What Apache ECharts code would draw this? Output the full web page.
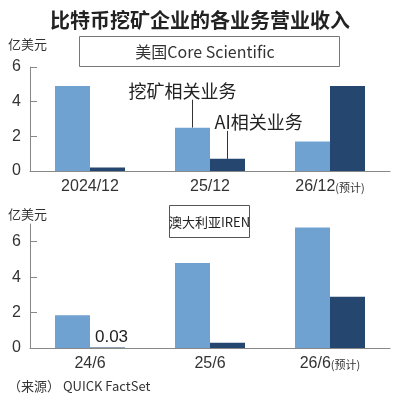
<!DOCTYPE html>
<html>
<head>
<meta charset="utf-8">
<script src="https://cdn.jsdelivr.net/npm/echarts@6/dist/echarts.min.js"></script>
<style>
html, body { margin: 0; padding: 0; background: #fff; }
#main { width: 400px; height: 399px; }
</style>
</head>
<body>
<div id="main"></div>
<script>
// 美国Core Scientific
var topCats = ['2024/12', '25/12', '26/12(预计)'];
var topMining = [4.9, 2.5, 1.7];
var topAI = [0.2, 0.7, 4.9];
// 澳大利亚IREN
var botCats = ['24/6', '25/6', '26/6(预计)'];
var botMining = [1.85, 4.8, 6.8];
var botAI = [0.03, 0.3, 2.9];
var yTicks = [0, 2, 4, 6];

var LIGHT = '#6fa1d1';
var DARK = '#24466f';
var AXIS = '#888';
var NUM = '"Liberation Sans", Arial, sans-serif';
var CJK = '"Noto Sans CJK SC", sans-serif';
var barW = 35;

function catLabel(v) {
	return v.replace('(预计)', '{s|(预计)}');
}

var xAxisBase = function(idx, cats) {
	return {
		type: 'category',
		gridIndex: idx,
		data: cats,
		axisLine: { lineStyle: { color: AXIS, width: 1 } },
		axisTick: { show: false },
		axisLabel: {
			interval: 0,
			color: '#333',
			fontSize: 16,
			fontFamily: NUM,
			margin: 8,
			formatter: catLabel,
			rich: {
				s: { fontSize: 11, fontFamily: CJK, color: '#333', padding: [2, 0, 0, 0] }
			}
		}
	};
};
var yAxisBase = function(idx, max) {
	return {
		type: 'value',
		gridIndex: idx,
		min: 0,
		max: max,
		interval: 2,
		splitLine: { show: false },
		axisLine: { show: true, lineStyle: { color: AXIS, width: 1 } },
		axisTick: { show: true, inside: true, length: 7, lineStyle: { color: AXIS }, customValues: yTicks },
		axisLabel: { color: '#333', fontSize: 16, fontFamily: NUM, margin: 9, customValues: yTicks }
	};
};

var chart = echarts.init(document.getElementById('main'));
chart.setOption({
	animation: false,
	title: {
		text: '比特币挖矿企业的各业务营业收入',
		left: 'center',
		top: 5,
		textStyle: { fontSize: 20, fontWeight: 'bold', color: '#222', fontFamily: CJK }
	},
	grid: [
		{ left: 30, right: 10, top: 67, height: 104 },
		{ left: 30, right: 10, top: 224, height: 124 }
	],
	xAxis: [xAxisBase(0, topCats), xAxisBase(1, botCats)],
	yAxis: [yAxisBase(0, 6), yAxisBase(1, 7)],
	series: [{
		name: '挖矿相关业务',
		type: 'bar',
		xAxisIndex: 0, yAxisIndex: 0,
		barWidth: barW, barGap: '0%',
		itemStyle: { color: LIGHT },
		data: topMining
	}, {
		name: 'AI相关业务',
		type: 'bar',
		xAxisIndex: 0, yAxisIndex: 0,
		barWidth: barW, barGap: '0%',
		itemStyle: { color: DARK },
		data: topAI
	}, {
		name: '挖矿相关业务',
		type: 'bar',
		xAxisIndex: 1, yAxisIndex: 1,
		barWidth: barW, barGap: '0%',
		itemStyle: { color: LIGHT },
		data: botMining
	}, {
		name: 'AI相关业务',
		type: 'bar',
		xAxisIndex: 1, yAxisIndex: 1,
		barWidth: barW, barGap: '0%',
		itemStyle: { color: DARK },
		data: botAI.map(function(v, i) {
			if (i !== 0) return v;
			return {
				value: v,
				label: { show: true, position: 'top', distance: 2, color: '#222', fontSize: 17, fontFamily: NUM, offset: [4, 0] }
			};
		})
	}]
});

// 标注线和文字 (按柱子位置计算)
var pm = chart.convertToPixel({ xAxisIndex: 0, yAxisIndex: 0 }, [1, topMining[1]]);
var pa = chart.convertToPixel({ xAxisIndex: 0, yAxisIndex: 0 }, [1, topAI[1]]);
var mx = pm[0] - barW / 2, ax = pa[0] + barW / 2;
var lineLen = 28;

chart.setOption({
	graphic: [
		{ type: 'text', left: 8, top: 38, style: { text: '亿美元', fontSize: 13, fill: '#333', fontFamily: CJK } },
		{ type: 'text', left: 8, top: 208, style: { text: '亿美元', fontSize: 13, fill: '#333', fontFamily: CJK } },
		{ type: 'rect', shape: { x: 79.5, y: 36.5, width: 260, height: 30 }, style: { fill: '#fff', stroke: '#777', lineWidth: 1 } },
		{ type: 'text', x: 205, y: 52, style: { text: '美国Core Scientific', fontSize: 16, fill: '#333', fontFamily: CJK, align: 'center', verticalAlign: 'middle' } },
		{ type: 'rect', shape: { x: 169.5, y: 205.5, width: 80, height: 32 }, style: { fill: '#fff', stroke: '#555', lineWidth: 1 } },
		{ type: 'text', x: 209.5, y: 222, style: { text: '澳大利亚IREN', fontSize: 13, fill: '#222', fontFamily: CJK, align: 'center', verticalAlign: 'middle' } },
		{ type: 'line', shape: { x1: mx, y1: pm[1], x2: mx, y2: pm[1] - lineLen }, style: { stroke: '#333', lineWidth: 1 } },
		{ type: 'text', x: mx - 64, y: pm[1] - lineLen - 9, style: { text: '挖矿相关业务', fontSize: 18, fill: '#222', fontFamily: CJK, verticalAlign: 'middle' } },
		{ type: 'line', shape: { x1: ax, y1: pa[1], x2: ax, y2: pa[1] - lineLen }, style: { stroke: '#333', lineWidth: 1 } },
		{ type: 'text', x: ax - 13, y: pa[1] - lineLen - 9, style: { text: 'AI相关业务', fontSize: 18, fill: '#222', fontFamily: CJK, verticalAlign: 'middle' } },
		{ type: 'text', left: 8, top: 380, style: { text: '（来源） QUICK FactSet', fontSize: 13, fill: '#333', fontFamily: CJK } }
	]
});
</script>
</body>
</html>
